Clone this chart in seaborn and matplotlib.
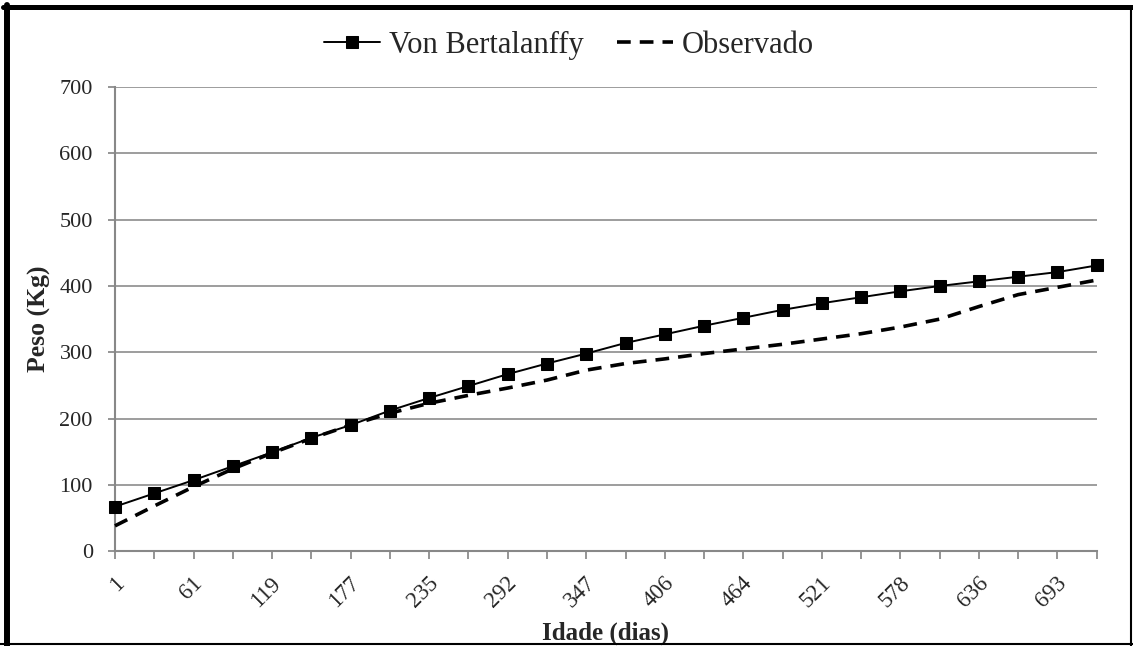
import matplotlib
matplotlib.use("Agg")
import matplotlib.pyplot as plt
import matplotlib.transforms as mtransforms
import seaborn as sns
import pandas as pd
import numpy as np
from matplotlib.lines import Line2D

# Idade (dias) - only every other label is printed on the axis
dias = ['1', '31', '61', '90', '119', '148', '177', '206', '235', '263', '292', '320', '347',
        '377', '406', '435', '464', '492', '521', '550', '578', '607', '636', '665', '693', '722']

von_bertalanffy = [67, 87, 107, 128, 149, 171, 190, 212, 231, 249, 267, 283, 298,
                   314, 327, 340, 352, 364, 374, 383, 392, 400, 407, 414, 421, 431]

observado = [38, 68, 97, 124, 148, 170, 190, 208, 223, 235, 246, 258, 273,
             283, 290, 298, 305, 312, 320, 328, 338, 350, 369, 387, 398, 409]

sns.set_theme(style="white")
plt.rcParams['font.family'] = ['Liberation Serif', 'DejaVu Serif']

df = pd.DataFrame({'Idade': dias, 'VB': von_bertalanffy, 'Obs': observado})
df['pos'] = np.arange(len(df))

fig = plt.figure(figsize=(11.33, 6.46), dpi=100)
ax = fig.add_axes([0.1015, 0.147, 0.8665, 0.718])

sns.lineplot(data=df, x='pos', y='VB', ax=ax, color='black', linewidth=1.4,
             marker='s', markersize=8.5, markeredgecolor='black', label='Von Bertalanffy',
             clip_on=False, zorder=4)
sns.lineplot(data=df, x='pos', y='Obs', ax=ax, color='black', linewidth=2.6,
             linestyle=(0, (3.8, 2.5)), label='Observado', clip_on=False, zorder=3)

ax.set_xlim(0, len(dias) - 1)
ax.set_ylim(0, 700)
ax.set_yticks(range(0, 701, 100))
ax.set_xticks(df['pos'])
ax.set_xticklabels([d if i % 2 == 0 else '' for i, d in enumerate(dias)],
                   rotation=45, ha='right', va='center', rotation_mode='anchor', fontsize=16.5)
ax.tick_params(axis='y', labelsize=16, length=5, color='#888888', direction='out',
               left=True, pad=11)
ax.tick_params(axis='x', length=6, color='#888888', direction='out', bottom=True, pad=15)

# nudge rotated labels a little to the right, as in the original
shift = mtransforms.ScaledTranslation(0.06, 0, fig.dpi_scale_trans)
for lab in ax.get_xticklabels():
    lab.set_transform(lab.get_transform() + shift)

ax.grid(axis='y', color='#8c8c8c', linewidth=1.2)
ax.grid(axis='x', visible=False)
for side in ['top', 'right']:
    ax.spines[side].set_visible(False)
for side in ['left', 'bottom']:
    ax.spines[side].set_color('#888888')
    ax.spines[side].set_linewidth(1.5)

ax.set_xlabel('Idade (dias)', fontsize=18, fontweight='bold')
ax.xaxis.set_label_coords(0.5, -0.153)
ax.set_ylabel('Peso (Kg)', fontsize=18.5, fontweight='bold', labelpad=6)

ax.legend(loc='center', bbox_to_anchor=(0.502, 0.93), bbox_transform=fig.transFigure,
          ncol=2, frameon=False, fontsize=22, handlelength=1.85, handletextpad=0.28,
          columnspacing=1.08)

# chart frame: heavier on top/left
fr = fig.transFigure
fig.lines.append(Line2D([0.0062, 0.0062], [0.0, 0.992], transform=fr, color='black', lw=4.3))
fig.lines.append(Line2D([0.003, 1.0], [0.9884, 0.9884], transform=fr, color='black', lw=3.6))
fig.lines.append(Line2D([0.9982, 0.9982], [0.0, 0.99], transform=fr, color='black', lw=1.5))
fig.lines.append(Line2D([0.0, 1.0], [0.0031, 0.0031], transform=fr, color='black', lw=1.5))

fig.savefig('out.png', dpi=100)
